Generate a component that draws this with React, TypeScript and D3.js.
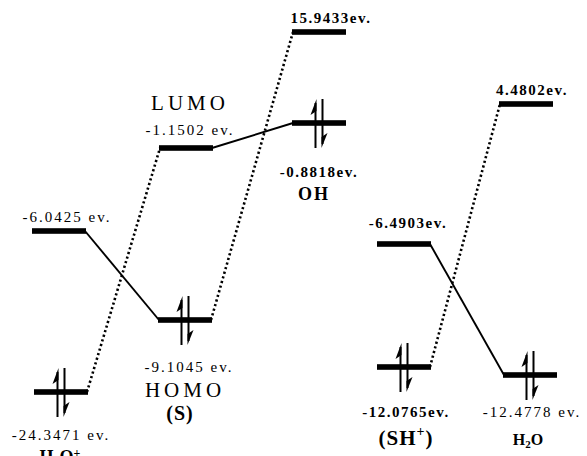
import React from "react";
import * as d3 from "d3";

// ---- data ----
const levelEnergies = [-24.3471, -6.0425, -1.1502, -9.1045, 15.9433, -0.8818, -6.4903, -12.0765, 4.4802, -12.4778];
const levelLabels = ["-24.3471 ev.", "-6.0425 ev.", "-1.1502 ev.", "-9.1045 ev.", "15.9433ev.", "-0.8818ev.", "-6.4903ev.", "-12.0765ev.", "4.4802ev.", "-12.4778 ev."];
const levelOccupied = [true, false, false, true, false, true, false, true, false, true];
const levelColumns = [0, 0, 1, 1, 2, 2, 3, 3, 4, 4];
const connectFrom = [0, 1, 2, 3, 7, 6];
const connectTo = [2, 3, 5, 4, 8, 9];
const connectStyle = ["dotted", "solid", "solid", "dotted", "dotted", "solid"];
const speciesNames = ["H3O+", "LUMO", "HOMO", "(S)", "OH", "(SH+)", "H2O"];

// ---- layout ----
const W = 587;
const H = 456;
const yStops = [392, 375, 367, 320, 244, 231, 148, 123, 104, 32]; // ascending energy order
const colLeft = [33, 158, 292, 377, 501];
const barShift = [1, -1, 1, 0, 0, 0, 0, 0, -2, 2];
const barW = 54;
const labelDx = [0, 8, 4, 4, 12, 0, 4, 2, 6, 2];
const labelDy = [48, -9, -13, 52, -9, 54, -16, 50, -9, 42];
const labelBold = [false, false, false, false, true, true, true, true, true, false];
const nameX = [60, 190, 185, 180, 314, 406, 528];
const nameY = [463, 110, 397, 420, 200, 445, 445];

const FONT = "'Liberation Serif', 'Times New Roman', serif";

export default function App() {
  const sortedE = [...levelEnergies].sort((a, b) => a - b);
  const y = d3.scaleLinear().domain(sortedE).range(yStops);
  const x = d3.scaleOrdinal<number, number>().domain([0, 1, 2, 3, 4]).range(colLeft);

  const levels = levelEnergies.map((e, i) => {
    const x0 = x(levelColumns[i]) + barShift[i];
    return { i, e, x0, x1: x0 + barW, cx: x0 + barW / 2, y: y(e) };
  });

  const line = d3.line<[number, number]>();

  const renderName = (name: string, i: number) => {
    const common = {
      key: "n" + i,
      x: nameX[i],
      y: nameY[i],
      textAnchor: "middle" as const,
      fontFamily: FONT,
    };
    if (name === "LUMO" || name === "HOMO") {
      return (
        <text {...common} fontSize={21} letterSpacing={4}>
          {name}
        </text>
      );
    }
    if (name === "(S)") {
      return (
        <text {...common} fontSize={20} fontWeight="bold" letterSpacing={1}>
          {name}
        </text>
      );
    }
    if (name === "OH") {
      return (
        <text {...common} fontSize={18} fontWeight="bold" letterSpacing={2}>
          OH
        </text>
      );
    }
    if (name === "(SH+)") {
      return (
        <text {...common} fontSize={21} fontWeight="bold" letterSpacing={1}>
          (SH
          <tspan fontSize={14} dy={-9}>+</tspan>
          <tspan dy={9}>)</tspan>
        </text>
      );
    }
    if (name === "H2O") {
      return (
        <text {...common} fontSize={16} fontWeight="bold">
          H<tspan fontSize={11} dy={3}>2</tspan>
          <tspan dy={-3}>O</tspan>
        </text>
      );
    }
    // H3O+
    return (
      <text {...common} fontSize={18} fontWeight="bold">
        H<tspan fontSize={12} dy={3}>3</tspan>
        <tspan dy={-3}>O</tspan>
        <tspan fontSize={12} dy={-6}>+</tspan>
      </text>
    );
  };

  return (
    <svg
      width={W}
      height={H}
      viewBox={`0 0 ${W} ${H}`}
      style={{ position: "absolute", left: 0, top: 0, background: "#fff", overflow: "hidden" }}
    >
      <rect x={0} y={0} width={W} height={H} fill="#fff" />
      {/* connectors */}
      {connectFrom.map((f, k) => {
        const a = levels[f];
        const b = levels[connectTo[k]];
        const dotted = connectStyle[k] === "dotted";
        return (
          <path
            key={"c" + k}
            d={line([[a.x1 - 1, a.y], [b.x0 + 1, b.y]]) || ""}
            fill="none"
            stroke="#000"
            strokeWidth={dotted ? 2.6 : 1.9}
            strokeDasharray={dotted ? "2.2 2.6" : undefined}
          />
        );
      })}
      {/* levels */}
      {levels.map((l) => (
        <rect key={"b" + l.i} x={l.x0} y={l.y - 2.8} width={barW} height={5.6} fill="#000" />
      ))}
      {/* electrons */}
      {levels
        .filter((l) => levelOccupied[l.i])
        .map((l) => {
          const ux = l.cx - 3.5;
          const dx = l.cx + 3.5;
          const top = l.y - 24;
          const bot = l.y + 25;
          return (
            <g key={"e" + l.i}>
              <line x1={ux} y1={bot} x2={ux} y2={top + 4} stroke="#000" strokeWidth={2} />
              <path d={`M${ux + 1},${top} L${ux - 5},${top + 16} L${ux + 1},${top + 12} Z`} fill="#000" />
              <line x1={dx} y1={top} x2={dx} y2={bot - 4} stroke="#000" strokeWidth={2} />
              <path d={`M${dx - 1},${bot} L${dx + 5},${bot - 15} L${dx - 1},${bot - 11} Z`} fill="#000" />
            </g>
          );
        })}
      {/* energy labels */}
      {levels.map((l) => (
        <text
          key={"t" + l.i}
          x={l.cx + labelDx[l.i]}
          y={l.y + labelDy[l.i]}
          textAnchor="middle"
          fontFamily={FONT}
          fontSize={15}
          fontWeight={labelBold[l.i] ? "bold" : "normal"}
          letterSpacing={labelBold[l.i] ? 1.5 : 2}
        >
          {levelLabels[l.i]}
        </text>
      ))}
      {/* species names */}
      {speciesNames.map((n, i) => renderName(n, i))}
    </svg>
  );
}
